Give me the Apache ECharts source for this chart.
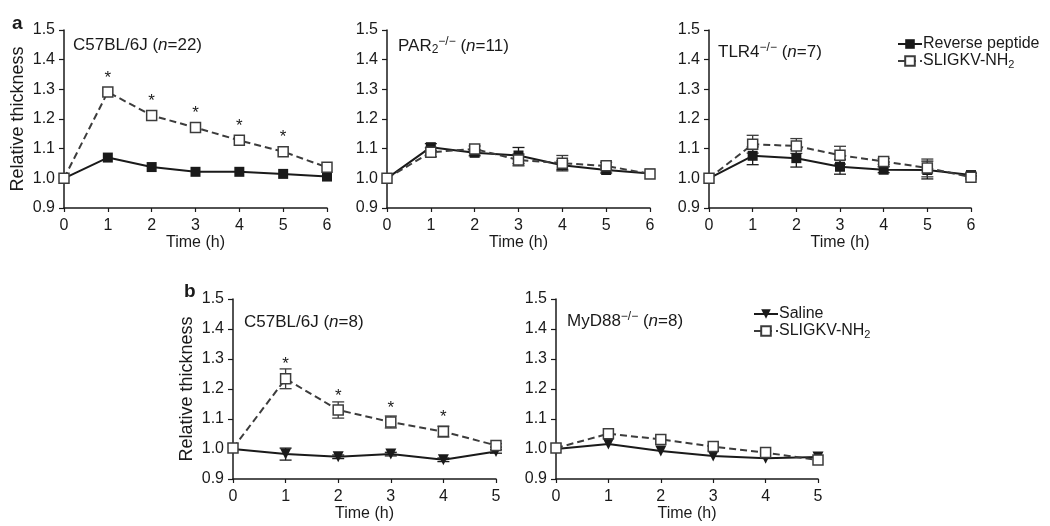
<!DOCTYPE html>
<html><head><meta charset="utf-8">
<script src="https://cdn.jsdelivr.net/npm/echarts@6/dist/echarts.min.js"></script>
<style>html,body{margin:0;padding:0;background:#fff}#c{width:1050px;height:526px}</style>
</head><body><div id="c"></div>
<script>
// ---- data ----
const hoursA = [0, 1, 2, 3, 4, 5, 6];
const hoursB = [0, 1, 2, 3, 4, 5];
const yTicks = [0.9, 1.0, 1.1, 1.2, 1.3, 1.4, 1.5];

// row a: C57BL/6J
const a1Reverse = [1.00, 1.070, 1.038, 1.022, 1.022, 1.015, 1.006];
const a1Sligkv  = [1.00, 1.291, 1.212, 1.171, 1.128, 1.090, 1.037];
const a1RevErr  = [0, 0, 0, 0, 0, 0, 0];
const a1SliErr  = [0, 0, 0, 0, 0, 0, 0];
const a1Stars   = [0, 1, 1, 1, 1, 1, 0];
// row a: PAR2-/-
const a2Reverse = [1.00, 1.105, 1.086, 1.077, 1.044, 1.028, 1.016];
const a2Sligkv  = [1.00, 1.088, 1.099, 1.062, 1.051, 1.042, 1.015];
const a2RevErr  = [0, 0.012, 0.010, 0.027, 0.015, 0.010, 0];
const a2SliErr  = [0, 0.015, 0.010, 0.020, 0.026, 0.012, 0];
// row a: TLR4-/-
const a3Reverse = [1.00, 1.076, 1.068, 1.039, 1.029, 1.028, 1.011];
const a3Sligkv  = [1.00, 1.115, 1.109, 1.078, 1.057, 1.035, 1.004];
const a3RevErr  = [0, 0.030, 0.030, 0.025, 0.010, 0.030, 0.006];
const a3SliErr  = [0, 0.030, 0.025, 0.030, 0.010, 0.030, 0.006];
// row b: C57BL/6J
const b1Saline  = [1.00, 0.983, 0.974, 0.983, 0.964, 0.992];
const b1Sligkv  = [1.003, 1.234, 1.130, 1.090, 1.058, 1.012];
const b1SalErr  = [0, 0.020, 0.006, 0.006, 0.006, 0.006];
const b1SliErr  = [0, 0.033, 0.027, 0.020, 0.018, 0.006];
const b1Stars   = [0, 1, 1, 1, 1, 0];
// row b: MyD88-/-
const b2Saline  = [1.00, 1.017, 0.993, 0.977, 0.969, 0.973];
const b2Sligkv  = [1.003, 1.051, 1.032, 1.008, 0.988, 0.963];
const b2SalErr  = [0, 0, 0, 0, 0, 0];
const b2SliErr  = [0, 0, 0, 0, 0, 0];

const FONT = 'Liberation Sans, Arial, sans-serif';
const FS = 16;
const TFS = 17;
const INK = '#1a1a1a';
const GREY = '#3c3c3c';

const grids = [
  {left: 64,  top: 30,  width: 263, height: 178},
  {left: 387, top: 30,  width: 263, height: 178},
  {left: 709, top: 30,  width: 262, height: 178},
  {left: 233, top: 299, width: 263, height: 180},
  {left: 556, top: 299, width: 262, height: 180}
];

function xAxisCfg(i, max) {
  return {
    type: 'value', gridIndex: i, min: 0, max: max, interval: 1,
    axisLine: {show: true, onZero: false, lineStyle: {color: INK, width: 1.5}},
    axisTick: {show: true, length: 4, lineStyle: {color: INK, width: 1.2}},
    splitLine: {show: false},
    axisLabel: {fontSize: FS, color: INK, fontFamily: FONT, margin: 10},
    name: 'Time (h)', nameLocation: 'middle', nameGap: 27,
    nameTextStyle: {fontSize: FS, color: INK, fontFamily: FONT}
  };
}
function yAxisCfg(i, withName) {
  return {
    type: 'value', gridIndex: i, min: 0.9, max: 1.5, interval: 0.1,
    axisLine: {show: true, lineStyle: {color: INK, width: 1.5}},
    axisTick: {show: true, length: 5, lineStyle: {color: INK, width: 1.2}},
    splitLine: {show: false},
    axisLabel: {fontSize: FS, color: INK, fontFamily: FONT, margin: 9,
      formatter: v => v.toFixed(1)},
    name: withName ? 'Relative thickness' : '', nameLocation: 'middle', nameGap: 37,
    nameTextStyle: {fontSize: 18, color: INK, fontFamily: FONT}
  };
}

function pairs(xs, ys) { return xs.map((x, i) => [x, ys[i]]); }
function triples(xs, ys, es) { return xs.map((x, i) => [x, ys[i], es[i]]); }

function errSeries(i, xs, ys, es, color) {
  return {
    type: 'custom', xAxisIndex: i, yAxisIndex: i, z: 1, silent: true,
    data: triples(xs, ys, es),
    renderItem: function (params, api) {
      const x = api.value(0), y = api.value(1), e = api.value(2);
      if (!e) return null;
      const t = api.coord([x, y + e]), b = api.coord([x, y - e]);
      const w = 6;
      const st = {stroke: color, lineWidth: 1.3, fill: null};
      return {type: 'group', children: [
        {type: 'line', shape: {x1: t[0], y1: t[1], x2: b[0], y2: b[1]}, style: st},
        {type: 'line', shape: {x1: t[0] - w, y1: t[1], x2: t[0] + w, y2: t[1]}, style: st},
        {type: 'line', shape: {x1: b[0] - w, y1: b[1], x2: b[0] + w, y2: b[1]}, style: st}
      ]};
    }
  };
}
function starSeries(i, xs, ys, flags) {
  return {
    type: 'custom', xAxisIndex: i, yAxisIndex: i, z: 5, silent: true,
    data: triples(xs, ys, flags),
    renderItem: function (params, api) {
      if (!api.value(2)) return null;
      const p = api.coord([api.value(0), api.value(1)]);
      return {type: 'text', x: p[0], y: p[1] - 14,
        style: {text: '*', fontSize: 17, fontFamily: FONT, fill: INK,
          align: 'center', verticalAlign: 'middle'}};
    }
  };
}
function solidSeries(i, name, xs, ys, symbol) {
  return {
    type: 'line', name: name, xAxisIndex: i, yAxisIndex: i, z: 3,
    data: pairs(xs, ys), symbol: symbol === 'tri' ? 'triangle' : 'rect',
    symbolRotate: symbol === 'tri' ? 180 : 0,
    symbolSize: symbol === 'tri' ? 11 : 10, showAllSymbol: true,
    lineStyle: {color: INK, width: 2},
    itemStyle: {color: INK, borderColor: INK, borderWidth: 0},
    emphasis: {disabled: true}
  };
}
function dashedSeries(i, name, xs, ys) {
  return {
    type: 'line', name: name, xAxisIndex: i, yAxisIndex: i, z: 4,
    data: pairs(xs, ys), symbol: 'rect', symbolSize: 10, showAllSymbol: true,
    lineStyle: {color: GREY, width: 2, type: [7, 4]},
    itemStyle: {color: '#fff', borderColor: GREY, borderWidth: 1.5},
    emphasis: {disabled: true}
  };
}

const SLI = 'SLIGKV-NH2';
const titleRich = {
  it: {fontStyle: 'italic', fontSize: TFS, fontFamily: FONT, color: INK},
  sub: {fontSize: 12, fontFamily: FONT, color: INK, verticalAlign: 'bottom', padding: [8, 0, 0, 0]},
  sup: {fontSize: 12, fontFamily: FONT, color: INK, verticalAlign: 'top', padding: [0, 0, 8, 0]},
  n: {fontSize: TFS, fontFamily: FONT, color: INK}
};
function title(text, left, top) {
  return {text: text, left: left, top: top, padding: 0,
    textStyle: {fontSize: TFS, fontWeight: 'normal', fontFamily: FONT, color: INK, rich: titleRich}};
}
function legendCfg(names, left, top) {
  return {data: names, orient: 'vertical', left: left, top: top,
    itemWidth: 24, itemHeight: 12, itemGap: 1, selectedMode: false,
    formatter: n => n === SLI ? 'SLIGKV-NH{sub|2}' : n,
    textStyle: {fontSize: FS, fontFamily: FONT, color: INK, padding: [0, 0, 0, -4],
      rich: {sub: {fontSize: 11, fontFamily: FONT, color: INK, verticalAlign: 'bottom', padding: [8, 0, 0, 0]}}}};
}

const option = {
  animation: false,
  backgroundColor: '#fff',
  grid: grids,
  xAxis: [xAxisCfg(0, 6), xAxisCfg(1, 6), xAxisCfg(2, 6), xAxisCfg(3, 5), xAxisCfg(4, 5)],
  yAxis: [yAxisCfg(0, true), yAxisCfg(1, false), yAxisCfg(2, false), yAxisCfg(3, true), yAxisCfg(4, false)],
  title: [
    {text: 'a', left: 12, top: 14, padding: 0, textStyle: {fontSize: 19, fontWeight: 'bold', fontFamily: FONT, color: INK}},
    {text: 'b', left: 184, top: 282, padding: 0, textStyle: {fontSize: 19, fontWeight: 'bold', fontFamily: FONT, color: INK}},
    title('{n|C57BL/6J (}{it|n}{n|=22)}', 73, 37),
    title('{n|PAR}{sub|2}{sup|−/−}{n| (}{it|n}{n|=11)}', 398, 36),
    title('{n|TLR4}{sup|−/−}{n| (}{it|n}{n|=7)}', 718, 42),
    title('{n|C57BL/6J (}{it|n}{n|=8)}', 244, 314),
    title('{n|MyD88}{sup|−/−}{n| (}{it|n}{n|=8)}', 567, 311)
  ],
  legend: [
    legendCfg(['Reverse peptide', SLI], 892, 31),
    legendCfg(['Saline', SLI], 748, 301)
  ],
  series: [
    errSeries(0, hoursA, a1Reverse, a1RevErr, INK),
    errSeries(0, hoursA, a1Sligkv, a1SliErr, GREY),
    solidSeries(0, 'Reverse peptide', hoursA, a1Reverse, 'rect'),
    dashedSeries(0, SLI, hoursA, a1Sligkv),
    starSeries(0, hoursA, a1Sligkv, a1Stars),

    errSeries(1, hoursA, a2Reverse, a2RevErr, INK),
    errSeries(1, hoursA, a2Sligkv, a2SliErr, GREY),
    dashedSeries(1, SLI, hoursA, a2Sligkv),
    solidSeries(1, 'Reverse peptide', hoursA, a2Reverse, 'rect'),

    errSeries(2, hoursA, a3Reverse, a3RevErr, INK),
    errSeries(2, hoursA, a3Sligkv, a3SliErr, GREY),
    solidSeries(2, 'Reverse peptide', hoursA, a3Reverse, 'rect'),
    dashedSeries(2, SLI, hoursA, a3Sligkv),

    errSeries(3, hoursB, b1Saline, b1SalErr, INK),
    errSeries(3, hoursB, b1Sligkv, b1SliErr, GREY),
    solidSeries(3, 'Saline', hoursB, b1Saline, 'tri'),
    dashedSeries(3, SLI, hoursB, b1Sligkv),
    starSeries(3, hoursB, b1Sligkv, b1Stars),

    errSeries(4, hoursB, b2Saline, b2SalErr, INK),
    errSeries(4, hoursB, b2Sligkv, b2SliErr, GREY),
    solidSeries(4, 'Saline', hoursB, b2Saline, 'tri'),
    dashedSeries(4, SLI, hoursB, b2Sligkv)
  ]
};
const chart = echarts.init(document.getElementById('c'), null, {renderer: 'canvas'});
chart.setOption(option);
</script>
</body></html>
